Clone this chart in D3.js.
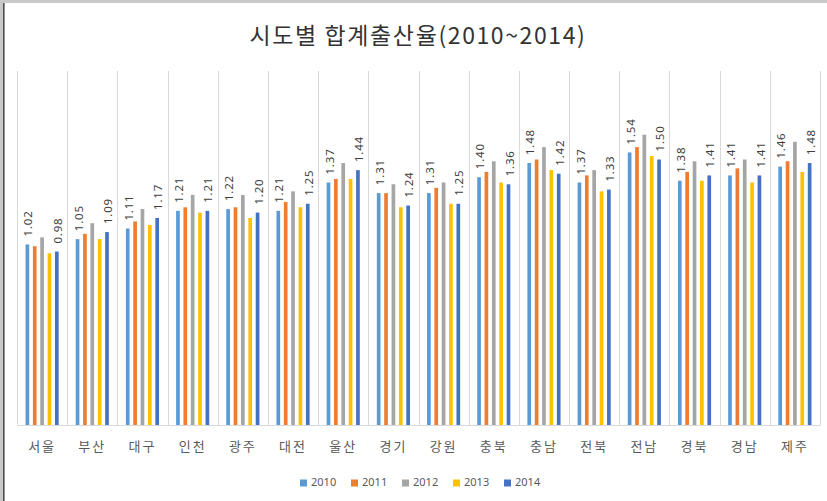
<!DOCTYPE html>
<html>
<head>
<meta charset="utf-8">
<script src="https://cdn.jsdelivr.net/npm/d3@7"></script>
<style>
  body { margin: 0; background: #fff; }
  svg { display: block; }
</style>
</head>
<body>
<div id="chart"></div>
<script>
// 시도별 합계출산율 (2010~2014)
const regions = ['서울','부산','대구','인천','광주','대전','울산','경기','강원','충북','충남','전북','전남','경북','경남','제주'];
const years = ['2010','2011','2012','2013','2014'];
const v2010 = [1.02,1.05,1.11,1.21,1.22,1.21,1.37,1.31,1.31,1.40,1.48,1.37,1.54,1.38,1.41,1.46];
const v2011 = [1.01,1.08,1.15,1.23,1.23,1.26,1.39,1.31,1.34,1.43,1.50,1.41,1.57,1.43,1.45,1.49];
const v2012 = [1.06,1.14,1.22,1.30,1.30,1.32,1.48,1.36,1.37,1.49,1.57,1.44,1.64,1.49,1.50,1.60];
const v2013 = [0.97,1.05,1.13,1.20,1.17,1.23,1.39,1.23,1.25,1.37,1.44,1.32,1.52,1.38,1.37,1.43];
const v2014 = [0.98,1.09,1.17,1.21,1.20,1.25,1.44,1.24,1.25,1.36,1.42,1.33,1.50,1.41,1.41,1.48];
const series = [v2010, v2011, v2012, v2013, v2014];
const colors = ['#5b9bd5','#ed7d31','#a5a5a5','#ffc000','#4472c4'];
const labelled = ['2010','2014'];

const W = 827, H = 501;
const plot = {left: 17, right: 820, top: 71, bottom: 425};

const svg = d3.select('#chart').append('svg')
    .attr('width', W)
    .attr('height', H);

// frame
svg.append('rect').attr('x',0).attr('y',0).attr('width',W).attr('height',H).attr('fill','#fff');
svg.append('rect').attr('x',0).attr('y',0).attr('width',W).attr('height',3).attr('fill','#c9c9c9');
svg.append('rect').attr('x',0).attr('y',0).attr('width',3).attr('height',H).attr('fill','#c9c9c9');
svg.append('line').attr('x1',3.8).attr('x2',3.8).attr('y1',3).attr('y2',H)
    .attr('stroke','#4d4d4d').attr('stroke-width',1.6);

// title
svg.append('text')
    .attr('x', 418)
    .attr('y', 38)
    .attr('text-anchor','middle')
    .attr('dominant-baseline','middle')
    .attr('font-family','"Noto Sans CJK KR", sans-serif')
    .attr('font-size', 23)
    .attr('letter-spacing', 1.6)
    .attr('fill','#333')
    .text('시도별 합계출산율(2010~2014)');

// scales
const x0 = d3.scaleBand().domain(regions).range([plot.left, plot.right]).padding(0);
const bw = x0.bandwidth();
const x1 = d3.scaleBand().domain(years).range([bw*0.17, bw*0.83]).paddingInner(0.5).paddingOuter(0);
const y = d3.scaleLinear().domain([0, 2]).range([plot.bottom, plot.top]);

// category gridlines
const gridX = regions.map(r => x0(r)).concat([plot.right]);
svg.append('g').selectAll('line')
  .data(gridX)
  .join('line')
    .attr('x1', d => Math.round(d) + 0.5)
    .attr('x2', d => Math.round(d) + 0.5)
    .attr('y1', plot.top)
    .attr('y2', plot.bottom)
    .attr('stroke','#d9d9d9')
    .attr('stroke-width',1);

// bars
const rows = regions.map((r, i) => ({region: r, vals: years.map((yr, j) => ({year: yr, value: series[j][i]}))}));

const groups = svg.append('g').selectAll('g')
  .data(rows)
  .join('g')
    .attr('transform', d => `translate(${x0(d.region)},0)`);

groups.selectAll('rect')
  .data(d => d.vals)
  .join('rect')
    .attr('x', d => x1(d.year))
    .attr('y', d => y(d.value))
    .attr('width', x1.bandwidth())
    .attr('height', d => y(0) - y(d.value))
    .attr('fill', (d, j) => colors[j]);

groups.selectAll('text')
  .data(d => d.vals.filter(v => labelled.includes(v.year)))
  .join('text')
    .attr('transform', d => `translate(${x1(d.year) + x1.bandwidth()/2 + 2},${y(d.value) - 8}) rotate(-90)`)
    .attr('text-anchor','start')
    .attr('dominant-baseline','middle')
    .attr('font-family','"Noto Sans", sans-serif')
    .attr('font-size', 11.5)
    .attr('letter-spacing', 0.8)
    .attr('fill','#404040')
    .text(d => d.value.toFixed(2));

// x axis
const xAxis = svg.append('g')
    .attr('transform', `translate(0,${plot.bottom})`)
    .call(d3.axisBottom(x0).tickSize(0).tickPadding(17));
xAxis.select('.domain').attr('stroke','#d9d9d9');
xAxis.selectAll('text')
    .attr('font-family','"Noto Sans CJK KR", sans-serif')
    .attr('font-size', 13)
    .attr('letter-spacing', 2)
    .attr('fill','#595959');

// legend
const legend = svg.append('g')
    .attr('transform', 'translate(300,483)')
  .selectAll('g')
  .data(years)
  .join('g')
    .attr('transform', (d, i) => `translate(${i * 51},0)`);

legend.append('rect')
    .attr('x', 0).attr('y', -3.5)
    .attr('width', 7).attr('height', 7)
    .attr('fill', (d, i) => colors[i]);

legend.append('text')
    .attr('x', 11)
    .attr('y', 0)
    .attr('dominant-baseline','middle')
    .attr('font-family','"Noto Sans", sans-serif')
    .attr('font-size', 11)
    .attr('fill','#595959')
    .text(d => d);
</script>
</body>
</html>
